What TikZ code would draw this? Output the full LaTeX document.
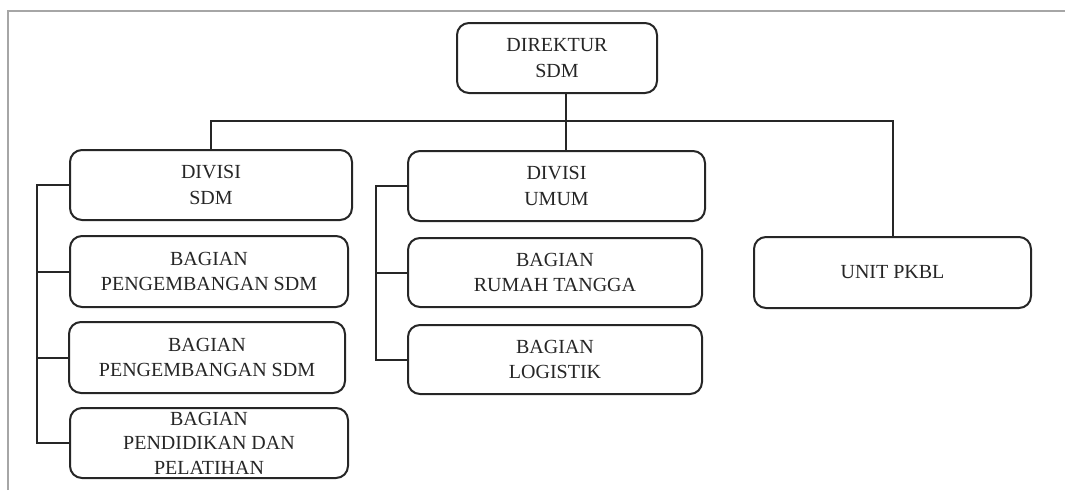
\documentclass[tikz,border=0pt]{standalone}
\usepackage{fontspec}
\setmainfont{Liberation Serif}
\begin{document}
\begin{tikzpicture}[x=1pt,y=-1pt,
  orgbox/.style={draw=black!85, line width=2pt, rounded corners=12pt, fill=white,
    align=center, inner sep=2pt, font=\fontsize{20}{25.5}\selectfont, text=black!85},
  link/.style={draw=black!85, line width=2pt}]
\useasboundingbox (0,0) rectangle (1065,490);
\draw[line width=2pt, draw=black!35] (8,490) -- (8,11) -- (1065,11);
\node[orgbox, minimum width=200pt, minimum height=70pt] (dir) at (557,58) {DIREKTUR\\SDM};
\node[orgbox, minimum width=282pt, minimum height=70pt] (dsdm) at (211,185) {DIVISI\\SDM};
\node[orgbox, minimum width=297pt, minimum height=70pt] (dumum) at (556.5,186) {DIVISI\\UMUM};
\node[orgbox, minimum width=278pt, minimum height=71pt] (b1) at (209,271.5) {BAGIAN\\PENGEMBANGAN SDM};
\node[orgbox, minimum width=276pt, minimum height=71pt] (b2) at (207,357.5) {BAGIAN\\PENGEMBANGAN SDM};
\node[orgbox, minimum width=278pt, minimum height=70pt, font=\fontsize{20}{24.5}\selectfont] (b3) at (209,443) {BAGIAN\\PENDIDIKAN DAN\\PELATIHAN};
\node[orgbox, minimum width=294pt, minimum height=69pt] (brt) at (555,272.5) {BAGIAN\\RUMAH TANGGA};
\node[orgbox, minimum width=294pt, minimum height=69pt] (blog) at (555,359.5) {BAGIAN\\LOGISTIK};
\node[orgbox, minimum width=277pt, minimum height=71pt] (pkbl) at (892.5,272.5) {UNIT PKBL};
\coordinate (dtop) at ([xshift=9pt]dir.south);
\coordinate (lbar) at (37,185);
\coordinate (rbar) at (376,186);
\draw[link] (dtop) -- (dtop |- dumum.north);
\draw[link] (dsdm.north) |- (pkbl.north |- 0,121) -- (pkbl.north);
\draw[link] (dsdm.west) -- (lbar) |- (b3.west);
\draw[link] (lbar |- b1.west) -- (b1.west);
\draw[link] (lbar |- b2.west) -- (b2.west);
\draw[link] (dumum.west) -- (rbar) |- (blog.west);
\draw[link] (rbar |- brt.west) -- (brt.west);
\end{tikzpicture}
\end{document}
